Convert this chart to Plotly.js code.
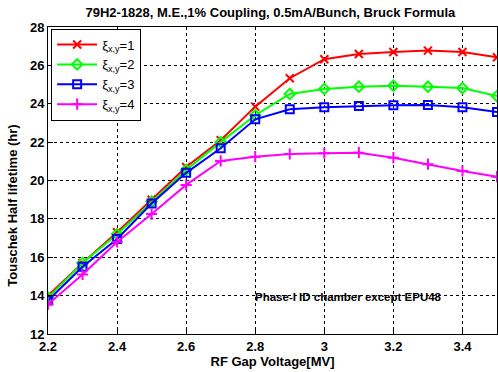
<!DOCTYPE html>
<html><head><meta charset="utf-8">
<script src="https://cdn.plot.ly/plotly-3.0.1.min.js"></script>
<style>body{margin:0;padding:0;background:#fff}#c{width:498px;height:372px}</style>
</head><body><div id="c"></div>
<script>
const voltage = [2.2,2.3,2.4,2.5,2.6,2.7,2.8,2.9,3.0,3.1,3.2,3.3,3.4,3.5];
const xi1 = [14.0,15.7,17.3,19.0,20.7,22.1,23.85,25.33,26.32,26.59,26.70,26.77,26.70,26.42];
const xi2 = [13.9,15.7,17.2,18.9,20.55,22.0,23.4,24.51,24.77,24.89,24.94,24.89,24.82,24.40];
const xi3 = [13.75,15.5,16.95,18.8,20.4,21.68,23.19,23.71,23.82,23.88,23.92,23.94,23.82,23.57];
const xi4 = [13.55,15.1,16.8,18.25,19.77,21.02,21.24,21.38,21.42,21.45,21.19,20.85,20.50,20.20];
const names = ['ξ<sub>x,y</sub>=1','ξ<sub>x,y</sub>=2','ξ<sub>x,y</sub>=3','ξ<sub>x,y</sub>=4'];
const colors = ['#ff0000','#00ff00','#0000ff','#ff00ff'];
const symbols = ['x-thin-open','diamond-open','square-open','cross-thin-open'];
const series = [xi1, xi2, xi3, xi4];
const traces = series.map((ys,i)=>({
  x: voltage, y: ys, name: names[i], type:'scatter', mode:'lines+markers',
  line:{color:colors[i], width:2},
  marker:{symbol:symbols[i], size:8, color:colors[i], line:{color:colors[i], width:2}}
}));
const fam = 'Liberation Sans, Arial, sans-serif';
const layout = {
  width:498, height:372,
  margin:{l:48, r:1, t:27, b:38},
  paper_bgcolor:'#fff', plot_bgcolor:'#fff',
  font:{family:fam, size:12, color:'#000'},
  title:{text:'<b>79H2-1828, M.E.,1% Coupling, 0.5mA/Bunch, Bruck Formula</b>', font:{family:fam,size:13,color:'#000'}, x:0.543, xanchor:'center', y:0.966, yanchor:'middle'},
  xaxis:{range:[2.2,3.5], dtick:0.2, tick0:2.2, showgrid:true, gridcolor:'#000', griddash:'dot', gridwidth:1,
    showline:true, linecolor:'#000', linewidth:1, mirror:true, ticks:'inside', ticklen:5, tickcolor:'#000',
    zeroline:false, tickfont:{family:fam,size:13,color:'#000',weight:'bold'},
    title:{text:'<b>RF Gap Voltage[MV]</b>', font:{family:fam,size:13,color:'#000'}, standoff:4}},
  yaxis:{range:[12,28], dtick:2, tick0:12, showgrid:true, gridcolor:'#000', griddash:'dot', gridwidth:1,
    showline:true, linecolor:'#000', linewidth:1, mirror:true, ticks:'inside', ticklen:5, tickcolor:'#000',
    zeroline:false, tickfont:{family:fam,size:13,color:'#000',weight:'bold'}},
  legend:{x:0.007, y:0.995, xanchor:'left', yanchor:'top', bgcolor:'#fff', bordercolor:'#000', borderwidth:1,
    font:{family:fam,size:13,color:'#000'}, tracegroupgap:0, itemwidth:40},
  annotations:[
    {text:'<b>Phase-I ID chamber except EPU48</b>', xref:'paper', yref:'paper', x:0.67, y:0.12, showarrow:false,
     font:{family:fam,size:11.5,color:'#000'}, xanchor:'center', yanchor:'middle'},
    {text:'<b>Touschek Half lifetime (hr)</b>', xref:'paper', yref:'paper', x:-0.078, y:0.418, textangle:-90, showarrow:false,
     font:{family:fam,size:13,color:'#000'}, xanchor:'center', yanchor:'middle'}
  ],
  showlegend:true
};
Plotly.newPlot('c', traces, layout, {displayModeBar:false, staticPlot:true});
</script></body></html>
